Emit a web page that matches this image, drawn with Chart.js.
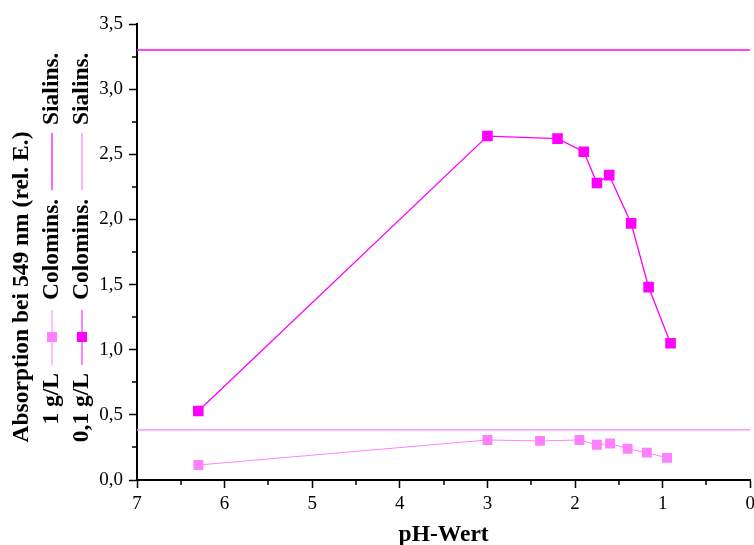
<!DOCTYPE html>
<html>
<head>
<meta charset="utf-8">
<script src="https://cdn.jsdelivr.net/npm/chart.js@4"></script>
<style>
  html, body { margin: 0; padding: 0; background: #fff; overflow: hidden; }
  canvas { display: block; }
</style>
</head>
<body>
<!-- a bit wider than the window so the last x label is cut at the edge, as in the original -->
<canvas id="chart" width="760" height="545"></canvas>
<script>
// pH values and absorption
const phColomins01 = [6.3, 3.0, 2.2, 1.9, 1.75, 1.61, 1.36, 1.16, 0.91];
const absColomins01 = [0.53, 2.64, 2.62, 2.52, 2.28, 2.34, 1.97, 1.48, 1.05];
const phColomins1 = [6.3, 3.0, 2.4, 1.95, 1.75, 1.6, 1.4, 1.18, 0.95];
const absColomins1 = [0.115, 0.307, 0.30, 0.307, 0.27, 0.28, 0.24, 0.21, 0.17];
const sialins1 = 3.30;
const sialins01 = 0.385;
const phRange = [7, 0];

const serif = "'Liberation Serif', 'Times New Roman', serif";
const magenta = "#ff00ff";
const pink = "#ff80ff";

const toPoints = (xs, ys) => xs.map((x, i) => ({x: x, y: ys[i]}));
const flat = v => phRange.map(x => ({x: x, y: v}));

// rotated legend + y title on the left, minor ticks on both axes
const sideLegend = {
  id: "sideLegend",
  afterDraw(chart) {
    const ctx = chart.ctx;
    const xs = chart.scales.x, ys = chart.scales.y;
    const area = chart.chartArea;

    ctx.save();
    ctx.strokeStyle = "#000";
    ctx.lineWidth = 1.5;
    ctx.beginPath();
    for (let v = 0.5; v < 7; v += 1) {
      const px = Math.round(xs.getPixelForValue(v));
      ctx.moveTo(px, area.bottom);
      ctx.lineTo(px, area.bottom + 5);
    }
    for (let v = 0.25; v < 3.5; v += 0.5) {
      const py = Math.round(ys.getPixelForValue(v));
      ctx.moveTo(area.left - 5, py);
      ctx.lineTo(area.left, py);
    }
    ctx.stroke();
    ctx.restore();

    function vtext(str, x, y, align) {
      ctx.save();
      ctx.translate(x, y);
      ctx.rotate(-Math.PI / 2);
      ctx.font = "bold 23.5px " + serif;
      ctx.fillStyle = "#000";
      ctx.textAlign = align;
      ctx.textBaseline = "middle";
      ctx.fillText(str, 0, 0);
      ctx.restore();
    }
    function vline(x, y1, y2, color, w) {
      ctx.save();
      ctx.strokeStyle = color;
      ctx.lineWidth = w;
      ctx.beginPath();
      ctx.moveTo(x, y1);
      ctx.lineTo(x, y2);
      ctx.stroke();
      ctx.restore();
    }

    vtext("Absorption bei 549 nm (rel. E.)", 22, 287, "center");

    const cols = [
      {x: 52, label: "1 g/L", col: chart.data.datasets[1], sia: chart.data.datasets[2]},
      {x: 82, label: "0,1 g/L", col: chart.data.datasets[0], sia: chart.data.datasets[3]}
    ];
    cols.forEach(c => {
      vtext(c.label, c.x, 373, "right");
      vline(c.x, 310, 365, c.col.borderColor, 1);
      ctx.fillStyle = c.col.pointBackgroundColor;
      ctx.fillRect(c.x - 5, 332, 10, 10);
      vtext("Colomins.", c.x, 300, "left");
      vline(c.x, 133, 190, c.sia.borderColor, 1.2);
      vtext("Sialins.", c.x, 125, "left");
    });
  }
};

new Chart(document.getElementById("chart"), {
  type: "line",
  data: {
    datasets: [
      {
        label: "0,1 g/L Colomins.",
        data: toPoints(phColomins01, absColomins01),
        borderColor: magenta,
        borderWidth: 1.3,
        pointStyle: "rect",
        pointRadius: 7.5,
        pointBackgroundColor: magenta,
        pointBorderColor: magenta,
        pointBorderWidth: 0
      },
      {
        label: "1 g/L Colomins.",
        data: toPoints(phColomins1, absColomins1),
        borderColor: pink,
        borderWidth: 1,
        pointStyle: "rect",
        pointRadius: 7,
        pointBackgroundColor: pink,
        pointBorderColor: pink,
        pointBorderWidth: 0
      },
      {
        label: "1 g/L Sialins.",
        data: flat(sialins1),
        borderColor: magenta,
        borderWidth: 1.5,
        pointRadius: 0
      },
      {
        label: "0,1 g/L Sialins.",
        data: flat(sialins01),
        borderColor: pink,
        borderWidth: 1.3,
        pointRadius: 0
      }
    ]
  },
  options: {
    responsive: false,
    animation: false,
    layout: {padding: {top: 24, right: 2, left: 0, bottom: 0}},
    plugins: {legend: {display: false}, tooltip: {enabled: false}},
    scales: {
      x: {
        type: "linear",
        reverse: true,
        min: 0,
        max: 7,
        ticks: {stepSize: 1, color: "#000", font: {family: serif, size: 19}, padding: 5, maxRotation: 0},
        grid: {drawOnChartArea: false, tickLength: 8, tickColor: "#000", tickWidth: 1.5},
        border: {color: "#000", width: 2},
        title: {display: true, text: "pH-Wert", color: "#000",
                font: {family: serif, size: 23.5, weight: "bold"}, padding: {top: 0, bottom: -4}},
        afterFit(s) { s.height = 65; }
      },
      y: {
        min: 0,
        max: 3.5,
        ticks: {stepSize: 0.5, color: "#000", font: {family: serif, size: 19}, padding: 6,
                callback: v => v.toFixed(1).replace(".", ",")},
        grid: {drawOnChartArea: false, tickLength: 8, tickColor: "#000", tickWidth: 1.5},
        border: {color: "#000", width: 2},
        afterFit(s) { s.width = 137; s.paddingTop = 0; s.paddingBottom = 0; }
      }
    }
  },
  plugins: [sideLegend]
});
</script>
</body>
</html>
